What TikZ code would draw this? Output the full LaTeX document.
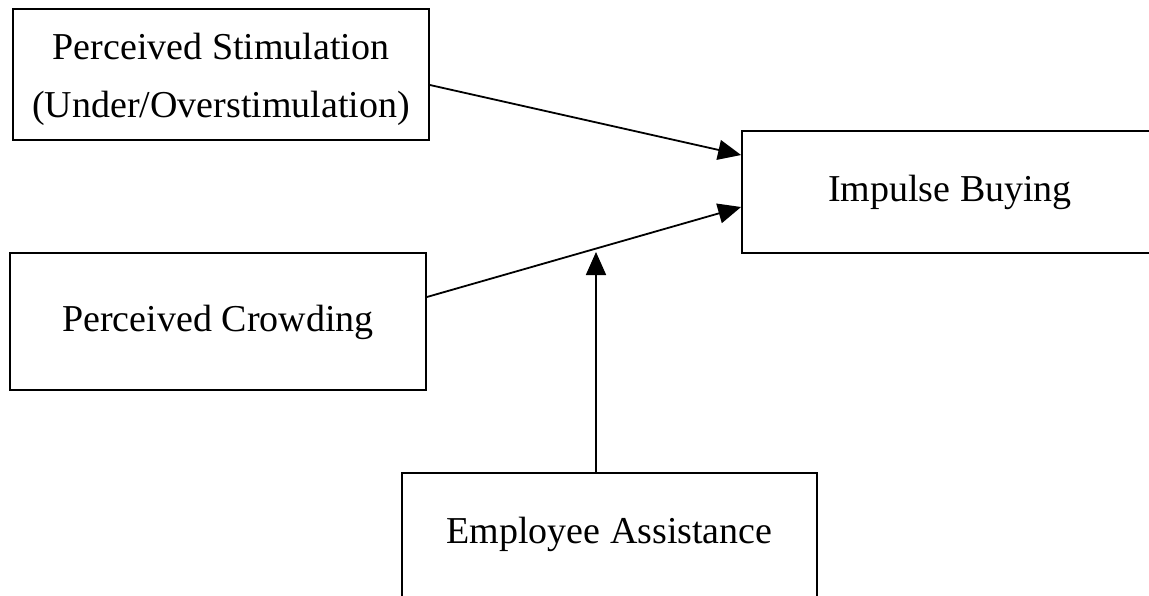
\documentclass[tikz,border=0pt]{standalone}
\usepackage{fontspec}
\setmainfont{Liberation Serif}
\usetikzlibrary{arrows.meta}
\begin{document}
\begin{tikzpicture}[x=1pt,y=-1pt,
  txt/.style={font=\fontsize{38}{58}\selectfont},
  box/.style={draw,line width=1.8pt,rectangle,inner sep=0pt,align=center,txt},
  arr/.style={line width=1.8pt,-{Triangle[length=23pt,width=20pt]}}]
\useasboundingbox (0,0) rectangle (1149,595);
\fill[white] (0,0) rectangle (1149,595);
\clip (0,0) rectangle (1149,595);
\node[box,minimum width=416pt,minimum height=131pt] (ps) at (221,74.5) {};
\node[txt,align=center,inner sep=0pt] (pstext) at (221,79)
  {Perceived Stimulation\\(Under/Overstimulation)};
\node[box,minimum width=416pt,minimum height=137pt] (pc) at (218,321.5) {};
\node[txt,inner sep=0pt] (pctext) at (218,322) {Perceived Crowding};
\node[box,minimum width=420pt,minimum height=122pt] (ib) at (952,192) {};
\node[txt,inner sep=0pt] (ibtext) at (950,192) {Impulse Buying};
\node[box,minimum width=415pt,minimum height=160pt] (ea) at (609.5,553) {};
\node[txt,inner sep=0pt] (eatext) at (609.5,534) {Employee Assistance};
\coordinate (mod) at (596,252);
\draw[arr] ([yshift=-10.5pt]ps.east) -- ([yshift=37pt]ib.west);
\draw[arr] ([yshift=24.5pt]pc.east) -- ([yshift=-15pt]ib.west);
\draw[arr] (ea.north -| mod) -- (mod);
\end{tikzpicture}
\end{document}
